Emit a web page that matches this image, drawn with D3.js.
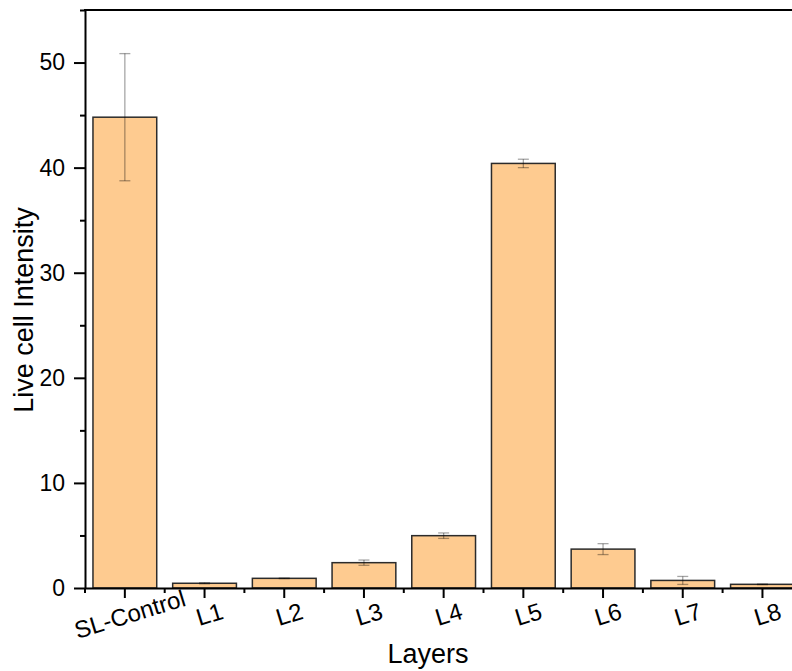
<!DOCTYPE html>
<html>
<head>
<meta charset="utf-8">
<script src="https://cdn.jsdelivr.net/npm/d3@7"></script>
<style>
  body { margin: 0; background: #fff; }
  svg { display: block; font-family: "Liberation Sans", Arial, sans-serif; }
</style>
</head>
<body>
<div id="app"></div>
<script>
var layers = ["SL-Control", "L1", "L2", "L3", "L4", "L5", "L6", "L7", "L8"];
var intensity = [44.8, 0.45, 0.92, 2.41, 4.98, 40.4, 3.7, 0.72, 0.35];
var errors = [6.05, 0.05, 0.03, 0.25, 0.26, 0.4, 0.52, 0.38, 0.03];
var yTicks = [0, 10, 20, 30, 40, 50];
var yMinor = [5, 15, 25, 35, 45, 55];

var W = 792, H = 671;
var plotLeft = 85, plotTop = 10, plotBottom = 588;
var step = 79.7;
var plotRight = plotLeft + step * layers.length;

var svg = d3.select("#app").append("svg")
    .attr("width", W)
    .attr("height", H);

var x = d3.scaleBand()
    .domain(layers)
    .range([plotLeft, plotRight])
    .paddingInner(0.2)
    .paddingOuter(0.1);

var y = d3.scaleLinear()
    .domain([0, 55])
    .range([plotBottom, plotTop]);

//BARS
svg.selectAll(".bar")
    .data(layers)
    .enter()
    .append("rect")
    .attr("class", "bar")
    .attr("x", function (d) { return x(d); })
    .attr("y", function (d, i) { return y(intensity[i]); })
    .attr("width", x.bandwidth())
    .attr("height", function (d, i) { return y(0) - y(intensity[i]); })
    .style("fill", "#fecb90")
    .style("stroke", "#2b2b2b")
    .style("stroke-width", 1.5);

//ERROR BARS
var err = svg.selectAll(".err")
    .data(layers)
    .enter()
    .append("g")
    .attr("class", "err")
    .style("stroke", "#000")
    .style("stroke-opacity", 0.35)
    .style("stroke-width", 1.3);
err.append("line")
    .attr("x1", function (d) { return x(d) + x.bandwidth() / 2; })
    .attr("x2", function (d) { return x(d) + x.bandwidth() / 2; })
    .attr("y1", function (d, i) { return y(intensity[i] + errors[i]); })
    .attr("y2", function (d, i) { return y(intensity[i] - errors[i]); });
[1, -1].forEach(function (s) {
    err.append("line")
        .attr("x1", function (d) { return x(d) + x.bandwidth() / 2 - 5.5; })
        .attr("x2", function (d) { return x(d) + x.bandwidth() / 2 + 5.5; })
        .attr("y1", function (d, i) { return y(intensity[i] + s * errors[i]); })
        .attr("y2", function (d, i) { return y(intensity[i] + s * errors[i]); });
});

//AXES
var yAxis = svg.append("g")
    .attr("transform", "translate(" + plotLeft + ",0)")
    .call(d3.axisLeft(y).tickValues(yTicks).tickSize(11).tickPadding(9).tickSizeOuter(0));
svg.append("g")
    .attr("transform", "translate(" + plotLeft + ",0)")
    .call(d3.axisLeft(y).tickValues(yMinor).tickSize(5).tickFormat("").tickSizeOuter(0))
    .select(".domain").remove();

svg.append("g")
    .attr("transform", "translate(0," + plotBottom + ")")
    .call(d3.axisBottom(x).tickSize(10).tickSizeOuter(0).tickFormat(""));
var xMinor = d3.range(layers.length + 1).map(function (i) { return plotLeft + i * step; });
svg.append("g")
    .selectAll("line")
    .data(xMinor)
    .enter()
    .append("line")
    .attr("x1", function (d) { return d; })
    .attr("x2", function (d) { return d; })
    .attr("y1", plotBottom)
    .attr("y2", plotBottom + 5)
    .style("stroke", "#000")
    .style("stroke-width", 2);

svg.selectAll(".domain").style("stroke-width", 2);
svg.selectAll(".tick line").style("stroke-width", 2);
yAxis.selectAll("text").style("font-size", "23px").style("fill", "#000");

//X LABELS
svg.selectAll(".xlab")
    .data(layers)
    .enter()
    .append("text")
    .attr("class", "xlab")
    .attr("text-anchor", "middle")
    .attr("dominant-baseline", "central")
    .attr("transform", function (d) {
        return "translate(" + (x(d) + x.bandwidth() / 2 + 5) + ",614) rotate(-17)";
    })
    .style("font-size", "24px")
    .text(function (d) { return d; });

//TOP BORDER
svg.append("line")
    .attr("x1", plotLeft - 1)
    .attr("x2", plotRight)
    .attr("y1", plotTop)
    .attr("y2", plotTop)
    .style("stroke", "#000")
    .style("stroke-width", 2);
svg.append("line")
    .attr("x1", plotRight)
    .attr("x2", plotRight)
    .attr("y1", plotTop)
    .attr("y2", plotBottom)
    .style("stroke", "#000")
    .style("stroke-width", 2);

//TITLES
svg.append("text")
    .attr("x", 428)
    .attr("y", 663)
    .attr("text-anchor", "middle")
    .style("font-size", "27px")
    .text("Layers");
svg.append("text")
    .attr("transform", "translate(33,310) rotate(-90)")
    .attr("text-anchor", "middle")
    .style("font-size", "27px")
    .text("Live cell Intensity");
</script>
</body>
</html>
